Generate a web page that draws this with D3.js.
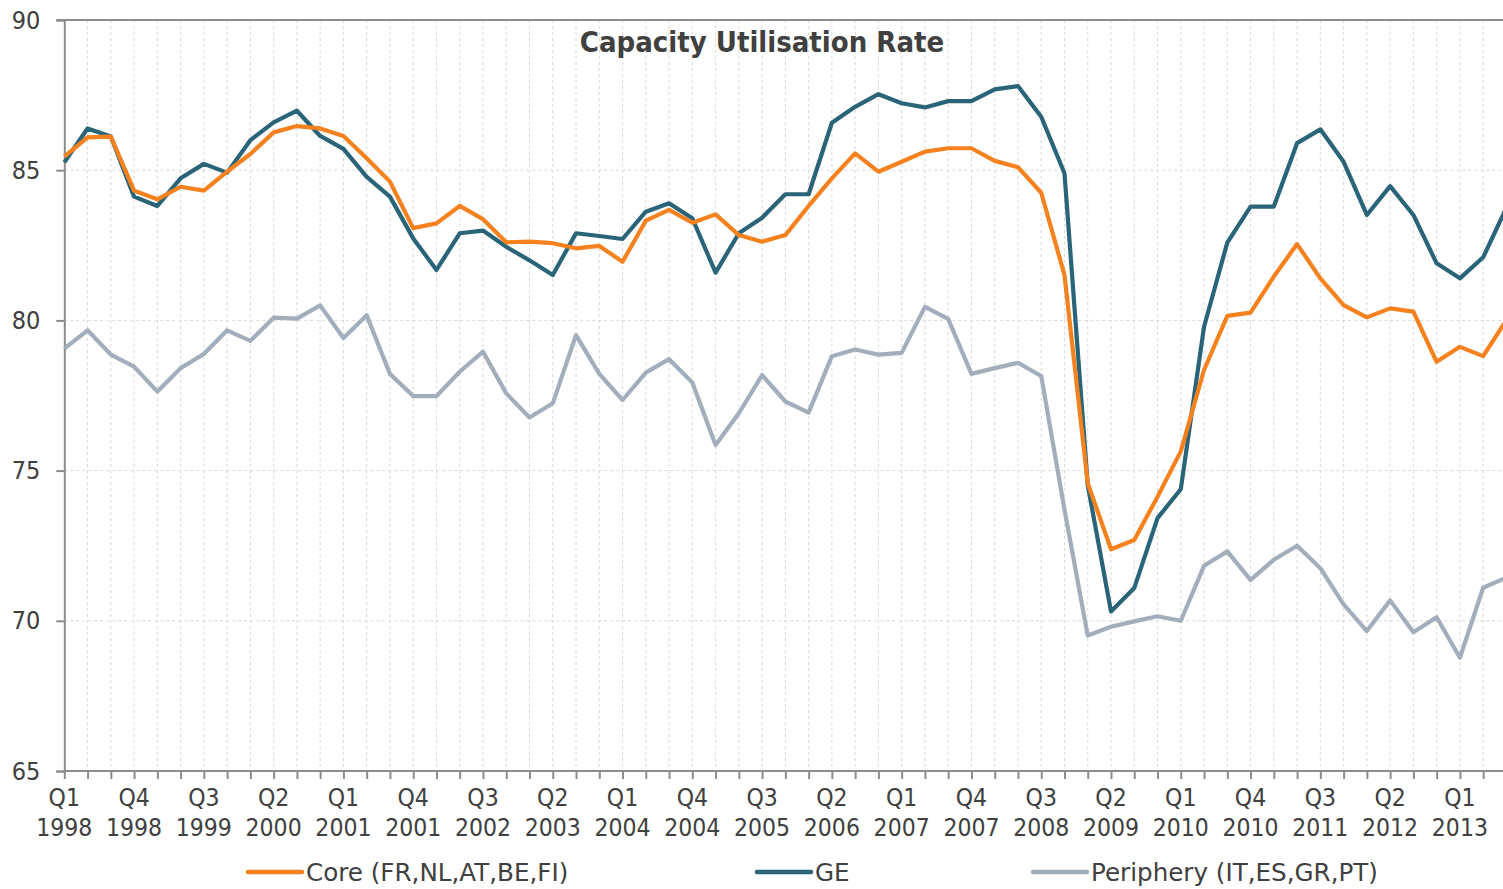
<!DOCTYPE html>
<html>
<head>
<meta charset="utf-8">
<script src="https://d3js.org/d3.v7.min.js"></script>
<style>
  body { margin: 0; background: #ffffff; }
  text { fill: #404040; }
</style>
</head>
<body>
<script>
/*jshint esversion: 8 */

// quarters Q1 1998 .. Q3 2013
var first_year = 1998;
var n_quarters = 63;

var core = [85.45, 86.09, 86.12, 84.32, 84.03, 84.45, 84.32, 84.95, 85.54, 86.26,
  86.47, 86.39, 86.14, 85.40, 84.62, 83.07, 83.23, 83.81, 83.37, 82.60,
  82.62, 82.57, 82.40, 82.48, 81.95, 83.32, 83.68, 83.25, 83.53, 82.84,
  82.62, 82.84, 83.81, 84.73, 85.56, 84.95, 85.28, 85.62, 85.73, 85.73,
  85.31, 85.10, 84.25, 81.51, 74.58, 72.38, 72.69, 74.13, 75.64, 78.35,
  80.15, 80.26, 81.46, 82.54, 81.40, 80.51, 80.10, 80.40, 80.29, 78.62,
  79.12, 78.81, 80.01];

var ge = [85.26, 86.39, 86.12, 84.12, 83.81, 84.73, 85.21, 84.92, 86.00, 86.59,
  86.98, 86.14, 85.71, 84.78, 84.12, 82.73, 81.68, 82.90, 82.99, 82.45,
  82.00, 81.51, 82.90, 82.81, 82.71, 83.62, 83.90, 83.40, 81.59, 82.90,
  83.42, 84.20, 84.20, 86.58, 87.11, 87.53, 87.23, 87.09, 87.30, 87.30,
  87.69, 87.80, 86.78, 84.90, 74.52, 70.31, 71.09, 73.42, 74.38, 79.79,
  82.59, 83.79, 83.79, 85.90, 86.36, 85.28, 83.51, 84.47, 83.51, 81.90,
  81.40, 82.10, 83.75];

var periphery = [79.06, 79.67, 78.86, 78.46, 77.63, 78.41, 78.88, 79.67, 79.32, 80.09,
  80.06, 80.50, 79.41, 80.17, 78.22, 77.48, 77.48, 78.29, 78.96, 77.57,
  76.77, 77.24, 79.51, 78.22, 77.35, 78.26, 78.71, 77.93, 75.85, 76.91,
  78.18, 77.30, 76.93, 78.81, 79.03, 78.86, 78.92, 80.45, 80.05, 78.22,
  78.41, 78.59, 78.15, 73.70, 69.51, 69.80, 69.98, 70.15, 70.00, 71.83,
  72.31, 71.36, 72.03, 72.50, 71.75, 70.55, 69.66, 70.68, 69.62, 70.12,
  68.77, 71.10, 71.44];

var y_ticks = [65, 70, 75, 80, 85, 90];

var series = [
  {name: "Core (FR,NL,AT,BE,FI)", values: core, color: "#f5821f", lx: 248},
  {name: "GE", values: ge, color: "#2a6479", lx: 757},
  {name: "Periphery (IT,ES,GR,PT)", values: periphery, color: "#a2aebb", lx: 1033}
];

window.onload = function() {
  build_chart();
};

var quarter_label = function(i) {
  return ["Q" + (i % 4 + 1), String(first_year + Math.floor(i / 4))];
};

var build_chart = function() {
  var w = 1503;
  var h = 889;
  var left = 64.3;
  var top = 20;
  var bottom = 771;
  var step = 23.26;

  var x = d3.scaleLinear()
    .domain([0, n_quarters - 1])
    .range([left, left + step * (n_quarters - 1)]);

  var y = d3.scaleLinear()
    .domain([65, 90])
    .range([bottom, top]);

  var svg = d3.select("body")
    .append("svg")
    .attr("width", w)
    .attr("height", h)
    .style("display", "block");

  var idx = d3.range(n_quarters);

  // grid
  svg.append("g")
    .selectAll("line")
    .data(idx.slice(1))
    .enter()
    .append("line")
    .attr("x1", function(d) { return x(d); })
    .attr("x2", function(d) { return x(d); })
    .attr("y1", top)
    .attr("y2", bottom)
    .attr("stroke", "#d9d9d9")
    .attr("stroke-width", 1)
    .attr("stroke-dasharray", "3,3");

  svg.append("g")
    .selectAll("line")
    .data(y_ticks.slice(1, -1))
    .enter()
    .append("line")
    .attr("x1", left)
    .attr("x2", w)
    .attr("y1", function(d) { return y(d); })
    .attr("y2", function(d) { return y(d); })
    .attr("stroke", "#d9d9d9")
    .attr("stroke-width", 1)
    .attr("stroke-dasharray", "3,3");

  // top frame
  svg.append("line")
    .attr("x1", left - 8)
    .attr("x2", w)
    .attr("y1", y(90))
    .attr("y2", y(90))
    .attr("stroke", "#8c8c8c")
    .attr("stroke-width", 2);

  // axes
  var y_axis = d3.axisLeft(y)
    .tickValues(y_ticks)
    .tickSize(8)
    .tickPadding(16);

  var gy = svg.append("g")
    .attr("transform", "translate(" + left + ",0)")
    .call(y_axis);
  gy.select(".domain").attr("stroke", "#8c8c8c").attr("stroke-width", 2);
  gy.selectAll(".tick line").attr("stroke", "#8c8c8c").attr("stroke-width", 2);
  gy.selectAll(".tick text")
    .attr("fill", "#404040")
    .style("font-family", "'DejaVu Sans Condensed', 'DejaVu Sans', sans-serif")
    .style("font-size", "25px");

  var x_axis = d3.axisBottom(x)
    .tickValues(idx)
    .tickSize(8)
    .tickSizeOuter(0)
    .tickFormat("");

  var gx = svg.append("g")
    .attr("transform", "translate(0," + bottom + ")")
    .call(x_axis);
  gx.select(".domain")
    .attr("d", "M" + left + ",0H" + w)
    .attr("stroke", "#8c8c8c").attr("stroke-width", 2);
  gx.selectAll(".tick line").attr("stroke", "#8c8c8c").attr("stroke-width", 2);

  var lab = svg.append("g")
    .selectAll("text")
    .data(idx.filter(function(d) { return d % 3 === 0 && d < n_quarters - 1; }))
    .enter()
    .append("text")
    .attr("text-anchor", "middle")
    .style("font-family", "'DejaVu Sans Condensed', 'DejaVu Sans', sans-serif")
    .style("font-size", "24.5px");
  lab.append("tspan")
    .attr("x", function(d) { return x(d); })
    .attr("y", bottom + 35)
    .text(function(d) { return quarter_label(d)[0]; });
  lab.append("tspan")
    .attr("x", function(d) { return x(d); })
    .attr("y", bottom + 65)
    .text(function(d) { return quarter_label(d)[1]; });

  // lines
  var line = d3.line()
    .x(function(d, i) { return x(i); })
    .y(function(d) { return y(d); });

  svg.append("g")
    .selectAll("path")
    .data(series.slice().reverse())
    .enter()
    .append("path")
    .attr("d", function(d) { return line(d.values); })
    .attr("fill", "none")
    .attr("stroke", function(d) { return d.color; })
    .attr("stroke-width", 4.2)
    .attr("stroke-linejoin", "round");

  // title
  svg.append("text")
    .attr("x", 762)
    .attr("y", 52)
    .attr("text-anchor", "middle")
    .style("font-family", "'DejaVu Sans Condensed', 'DejaVu Sans', sans-serif")
    .style("font-weight", "bold")
    .style("font-size", "29px")
    .text("Capacity Utilisation Rate");

  // legend
  var leg = svg.append("g")
    .selectAll("g")
    .data(series)
    .enter()
    .append("g")
    .attr("transform", function(d) { return "translate(" + d.lx + ",872)"; });
  leg.append("line")
    .attr("x1", 0)
    .attr("x2", 54)
    .attr("stroke", function(d) { return d.color; })
    .attr("stroke-width", 4.5)
    .attr("stroke-linecap", "round");
  leg.append("text")
    .attr("x", 58)
    .attr("y", 9)
    .style("font-family", "'DejaVu Sans', sans-serif")
    .style("font-size", "24.6px")
    .text(function(d) { return d.name; });
};
</script>
</body>
</html>
